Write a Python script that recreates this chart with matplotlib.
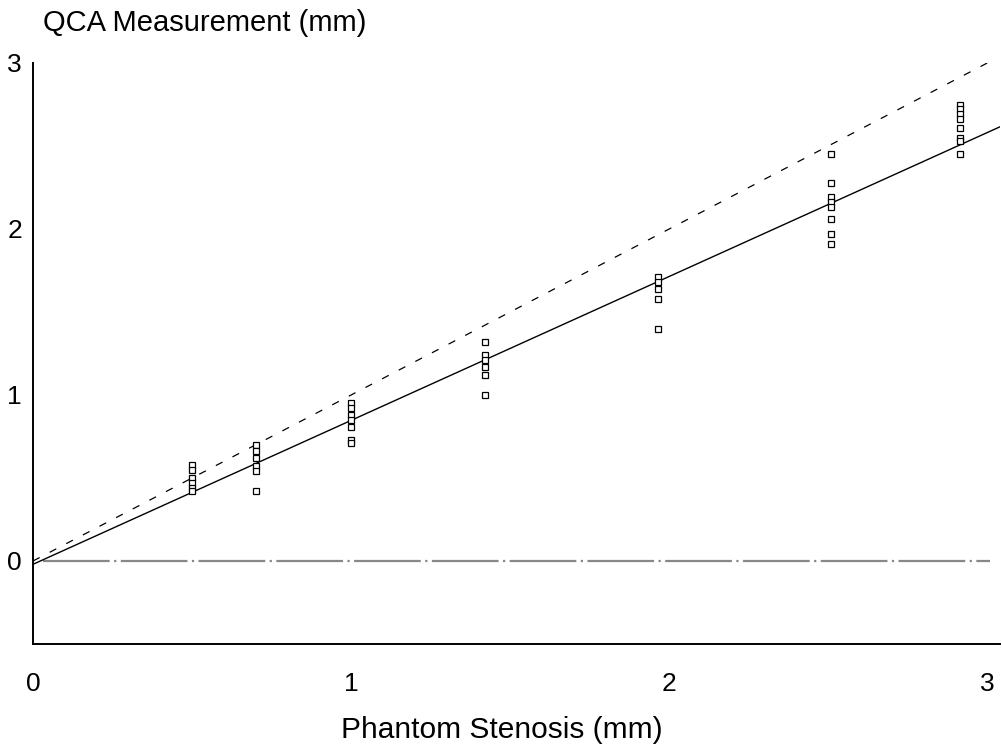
import matplotlib
matplotlib.use("Agg")
import matplotlib.pyplot as plt
import numpy as np

plt.rcParams['font.family'] = ['Liberation Sans', 'DejaVu Sans']

x_05 = [0.5] * 6
y_05 = [0.58, 0.55, 0.50, 0.47, 0.44, 0.42]
x_07 = [0.7] * 6
y_07 = [0.70, 0.66, 0.62, 0.57, 0.54, 0.42]
x_10 = [1.0] * 7
y_10 = [0.95, 0.92, 0.88, 0.85, 0.81, 0.73, 0.71]
x_14 = [1.42] * 6
y_14 = [1.32, 1.24, 1.21, 1.17, 1.12, 1.00]
x_20 = [1.965] * 5
y_20 = [1.71, 1.68, 1.64, 1.58, 1.40]
x_25 = [2.51] * 8
y_25 = [2.45, 2.28, 2.19, 2.16, 2.13, 2.06, 1.97, 1.91]
x_29 = [2.915] * 8
y_29 = [2.75, 2.72, 2.69, 2.66, 2.61, 2.55, 2.53, 2.45]

# regression line and line of identity
fit_slope, fit_icpt = 0.867, -0.02
line_x = [0, 3.1]

xs = x_05 + x_07 + x_10 + x_14 + x_20 + x_25 + x_29
ys = y_05 + y_07 + y_10 + y_14 + y_20 + y_25 + y_29

fig = plt.figure(figsize=(10.02, 7.5), dpi=100)
ax = fig.add_axes([33/1002, (750-644)/750, (1000-33)/1002, (644-63)/750])

ax.axhline(0, xmin=0.01, xmax=0.99, color='#888888', lw=1.6, dashes=(30, 2, 1, 2), zorder=1)
ax.plot(line_x, line_x, color='black', lw=0.9, dashes=(6, 9))
ax.plot(line_x, [fit_icpt + fit_slope*v for v in line_x], color='black', lw=1.0)
ax.plot(xs, ys, 's', ms=4.2, mfc='white', mec='black', mew=0.9, ls='none', zorder=3)

ax.set_xlim(0, 3.04)
ax.set_ylim(-0.5, 3)
for s in ['top', 'right']:
    ax.spines[s].set_visible(False)
ax.spines['left'].set_linewidth(1.4)
ax.spines['bottom'].set_linewidth(1.4)

ax.set_xticks([0, 1, 2, 3])
ax.set_yticks([0, 1, 2, 3])
ax.tick_params(axis='both', length=0, labelsize=19)
ax.tick_params(axis='x', pad=20)
ax.tick_params(axis='y', pad=8)
ax.set_yticks([3], minor=True)
ax.tick_params(axis='y', which='minor', direction='in', length=12, width=1.2)

fig.text(43/1002, 1 - 23/750, 'QCA Measurement (mm)', fontsize=21, ha='left', va='center')
fig.text(502/1002, 1 - 730/750, 'Phantom Stenosis (mm)', fontsize=21.5, ha='center', va='center')

fig.savefig('out.png', dpi=100)
